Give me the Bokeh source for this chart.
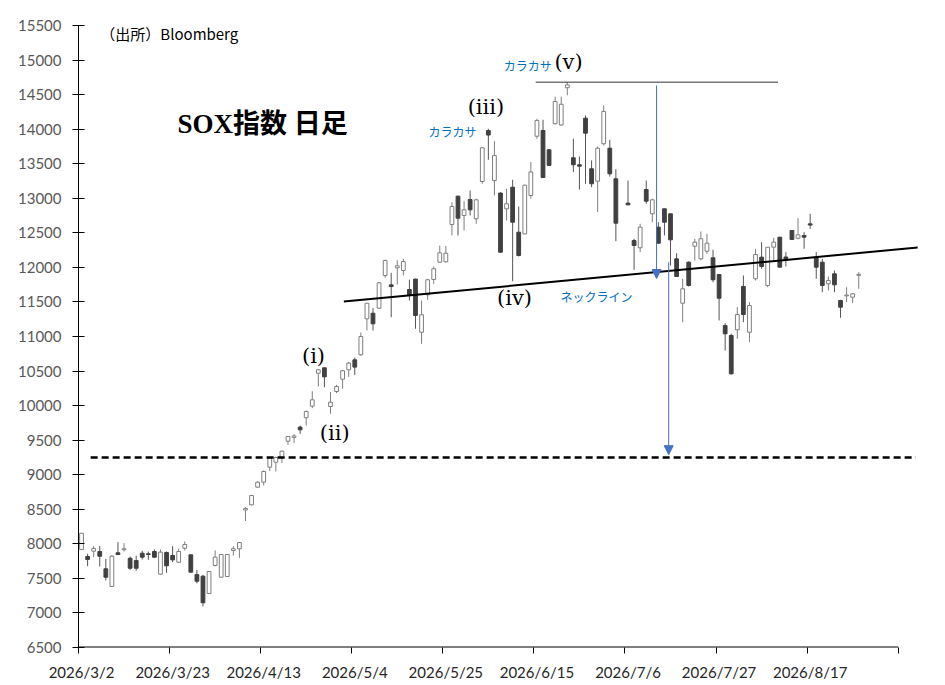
import numpy as np
from bokeh.plotting import figure
from bokeh.models import Range1d, FixedTicker, Arrow, NormalHead
from bokeh.core.properties import value
from bokeh.embed import file_html
from bokeh.resources import INLINE

# ---------------- data ----------------
tick_labels = ["2026/3/2", "2026/3/23", "2026/4/13", "2026/5/4", "2026/5/25",
               "2026/6/15", "2026/7/6", "2026/7/27", "2026/8/17"]
label_step = 15          # one label every 15 weekdays
n_slots = 135            # weekday slots on the category axis

opens = [7917, 7817, 7894, 7889, 7639, 7383, 7870, 7914, 7792, 7758,
         7865, 7856, 7889, 7561, 7875, 7831, 7734, 7937, 7841, 7555,
         7532, 7281, 7687, 7517, 7527, 7904, 7929, 8490, 8565, 8820,
         8893, 9109, 9181, 9244, 9485, 9540, 9689, 9824, 9992, 10469,
         10547, 9987, 10204, 10383, 10518, 10663, 10736, 11256, 11337, 11410,
         11882, 11747, 11994, 11955, 11680, 11831, 11062, 11603, 11825, 12075,
         12080, 12621, 13030, 12751, 12982, 12703, 13243, 13980, 13257, 13075,
         12848, 13160, 12509, 12485, 13040, 13898, 13981, 13702, 14078, 14060,
         14600, 13586, 13485, 14159, 13427, 13247, 13789, 13725, 13282, None,
         12930, 12389, 12284, 13127, 12775, 12582, 12848, 12775, 12124, 11482,
         12075, 12307, 12124, 12234, 12139, 11897, 11159, 11015, 11097, 11724,
         11062, 11835, 12148, 11738, 12292, 12437, 12150, 12534, 12422, 12462,
         12630, 12148, 12075, 11763, 11907, 11521, 11588, 11569, 11885]
highs = [8155, 7856, 7971, 7971, 7783, 7836, 8024, 8010, 7816, 7827,
         7900, 7889, 7918, 7918, 7889, 7966, 7929, 8034, 7845, 7622,
         7552, 7602, 7904, 7848, 7848, 7966, 8021, 8530, 8710, 8906,
         9061, 9249, 9264, 9351, 9555, 9590, 9712, 9929, 10209, 10523,
         10550, 10195, 10301, 10518, 10630, 10692, 11059, 11485, 11410, 11786,
         12114, 11922, 12104, 12124, 11821, 11835, 11521, 11835, 12013, 12316,
         12310, 12943, 13040, 12958, 13113, 12993, 13739, 14005, 13826, 13088,
         13137, 13267, 12881, 13195, 13525, 14150, 14136, 13705, 14470, 14470,
         14680, 13861, 13605, 14198, 13547, 13749, 14343, 13846, 13420, None,
         13257, 12414, 12631, 13257, 12993, 12654, 12850, 12777, 12205, 11835,
         12090, 12414, 12519, 12486, 12255, 11900, 11193, 11039, 11424, 11883,
         11497, 12269, 12365, 12295, 12428, 12440, 12220, 12536, 12712, 12509,
         12775, 12220, 12124, 11868, 11955, 11531, 11713, 11627, 11930]
lows = [7915, 7676, 7807, 7672, 7470, 7374, 7836, 7889, 7622, 7612,
        7773, 7768, 7792, 7552, 7581, 7734, 7720, 7904, 7588, 7428,
        7093, 7279, 7672, 7510, 7525, 7831, 7797, 8330, 8555, 8811,
        8844, 9051, 9047, 9167, 9433, 9460, 9592, 9712, 9963, 10277,
        10267, 9882, 10180, 10243, 10416, 10441, 10721, 11087, 11087, 11401,
        11849, 11280, 11752, 11882, 11521, 11112, 10894, 11531, 11763, 12066,
        12070, 12462, 12462, 12534, 12751, 12631, 13210, 13556, 13040, 12210,
        12679, 11800, 12158, 12480, 12993, 13861, 13297, 13472, 14070, 14050,
        14490, 13378, 13127, 13210, 13161, 12802, 13764, 13315, 12379, None,
        12900, 11965, 12220, 12920, 12654, 12342, 12462, 12027, 11866, 11207,
        11723, 12100, 12104, 12197, 11786, 11232, 10797, 10450, 10967, 11207,
        10918, 11811, 11980, 11713, 12090, 12000, 12013, 12402, 12404, 12269,
        12558, 11835, 11641, 11666, 11641, 11271, 11497, 11482, 11690]
closes = [8153, 7774, 7933, 7821, 7517, 7821, 7846, 7929, 7647, 7647,
          7807, 7846, 7807, 7880, 7682, 7768, 7889, 7990, 7590, 7459,
          7147, 7600, 7807, 7846, 7846, 7929, 8019, 8510, 8699, 8892,
          9047, 9239, 9249, 9341, 9553, 9560, 9650, 9915, 10084, 10518,
          10416, 10050, 10277, 10504, 10615, 10557, 11000, 11482, 11184, 11777,
          12099, 11723, 12023, 12085, 11603, 11304, 11314, 11821, 11980, 12211,
          12205, 12881, 12712, 12833, 12833, 12978, 13730, 13915, 13618, 12220,
          12920, 12654, 12172, 13190, 13380, 14126, 13300, 13475, 14400, 14360,
          14640, 13485, 13465, 13942, 13210, 13725, 14256, 13354, 12640, None,
          12905, 12317, 12582, 12958, 12978, 12350, 12654, 12399, 11868, 11690,
          11738, 12365, 12414, 12350, 11821, 11554, 11039, 10460, 11318, 11318,
          11449, 12187, 12013, 12292, 12365, 12003, 12110, 12404, 12471, 12437,
          12612, 12003, 11738, 11811, 11748, 11424, 11600, 11618, 11900]

# reference drawing levels (index units / index values)
neckline_x = [43.2, 137.7]
neckline_y = [11506, 12288]
target_level = 9250
target_x = [1.5, 137.4]
peak_level = 14680
peak_x = [74.8, 114.7]

# ---------------- arrays ----------------
o = np.array(opens, dtype=float)
h = np.array(highs, dtype=float)
l = np.array(lows, dtype=float)
c = np.array(closes, dtype=float)
idx = np.arange(len(o), dtype=float)
valid = ~np.isnan(o)
up = valid & (c >= o)
dn = valid & (c < o)

X_START, X_END = -0.5, n_slots - 0.5 + 4
p = figure(frame_width=844, frame_height=622,
           x_range=Range1d(X_START, X_END), y_range=Range1d(6500, 15500),
           output_backend="svg", toolbar_location=None,
           min_border_left=78, min_border_top=25, min_border_right=4,
           min_border_bottom=2, background_fill_color="white",
           border_fill_color="white", outline_line_color=None)
p.grid.visible = False

# y axis
p.yaxis.ticker = FixedTicker(ticks=list(range(6500, 15501, 500)))
p.yaxis.major_tick_in = 6
p.yaxis.major_tick_out = 6
p.yaxis.minor_tick_line_color = None
p.yaxis.axis_line_color = "black"
p.yaxis.major_tick_line_color = "black"
p.yaxis.major_label_text_color = "#595959"
p.yaxis.major_label_text_font = "Lato"
p.yaxis.major_label_text_font_size = "15px"
p.yaxis.major_label_standoff = 11

# x axis: labels at category centres, tick marks at boundaries
label_pos = [i * label_step for i in range(len(tick_labels))]
boundaries = [i * label_step - 0.5 for i in range(n_slots // label_step + 1)]
p.xaxis.ticker = FixedTicker(ticks=label_pos, minor_ticks=boundaries)
p.xaxis.major_label_overrides = {pos: lab for pos, lab in zip(label_pos, tick_labels)}
p.xaxis.major_tick_line_color = None
p.xaxis.major_tick_out = 6
p.xaxis.major_tick_in = 0
p.xaxis.minor_tick_line_color = "black"
p.xaxis.minor_tick_out = 6
p.xaxis.minor_tick_in = 0
p.xaxis.axis_line_color = None
p.xaxis.major_label_text_color = "#262626"
p.xaxis.major_label_text_font = "Lato"
p.xaxis.major_label_text_font_size = "15px"
p.xaxis.major_label_standoff = 9

# x axis line only across the category slots
p.segment(x0=[X_START], y0=[6500], x1=[n_slots - 0.5], y1=[6500],
          line_color="black", line_width=2)

# candles
UP_LINE = "#7f7f7f"
DN_COL = "#404040"
p.segment(x0=idx[up], y0=l[up], x1=idx[up], y1=h[up], line_color=UP_LINE, line_width=1)
p.segment(x0=idx[dn], y0=l[dn], x1=idx[dn], y1=h[dn], line_color="#555555", line_width=1)
p.vbar(x=idx[up], width=0.62, top=c[up], bottom=o[up],
       fill_color="white", line_color=UP_LINE, line_width=1)
p.vbar(x=idx[dn], width=0.62, top=o[dn], bottom=c[dn],
       fill_color=DN_COL, line_color=DN_COL, line_width=1)

# drawn lines
p.line(neckline_x, neckline_y, line_color="black", line_width=2)
p.line(target_x, [target_level] * 2, line_color="black", line_width=2.5, line_dash="7 4")
p.line(peak_x, [peak_level] * 2, line_color="#333333", line_width=1)

BLUE = "#4472C4"
p.add_layout(Arrow(end=NormalHead(size=9, fill_color=BLUE, line_color=BLUE),
                   x_start=94.7, y_start=14632, x_end=94.7, y_end=11839,
                   line_color=BLUE, line_width=1))
p.add_layout(Arrow(end=NormalHead(size=9, fill_color=BLUE, line_color=BLUE),
                   x_start=96.7, y_start=12075, x_end=96.7, y_end=9290,
                   line_color=BLUE, line_width=1))

# texts
p.text(x=[15.8], y=[14068], text=["SOX指数 日足"],
       text_font=value("Liberation Serif, Noto Sans CJK JP"), text_font_style="bold",
       text_font_size=value("27px"), text_color="black",
       text_align="left", text_baseline="middle")
p.text(x=[3.1], y=[15385], text=["（出所）Bloomberg"],
       text_font=value("Noto Sans CJK JP"), text_font_size=value("15px"),
       text_color="black", text_align="left", text_baseline="middle")
p.text(x=[38.2, 41.7, 66.6, 71.3, 80.2], y=[10711, 9597, 14314, 11550, 14965],
       text=["(i)", "(ii)", "(iii)", "(iv)", "(v)"],
       text_font=value("DejaVu Serif"), text_font_size=value("21px"),
       text_color="black", text_align="center", text_baseline="middle")
p.text(x=[61.1, 73.5, 84.8], y=[13967, 14922, 11579],
       text=["カラカサ", "カラカサ", "ネックライン"],
       text_font=value("Noto Sans CJK JP"), text_font_size=value("12px"),
       text_color="#0070C0", text_align="center", text_baseline="middle")

open("out.html", "w").write(file_html(p, INLINE))
